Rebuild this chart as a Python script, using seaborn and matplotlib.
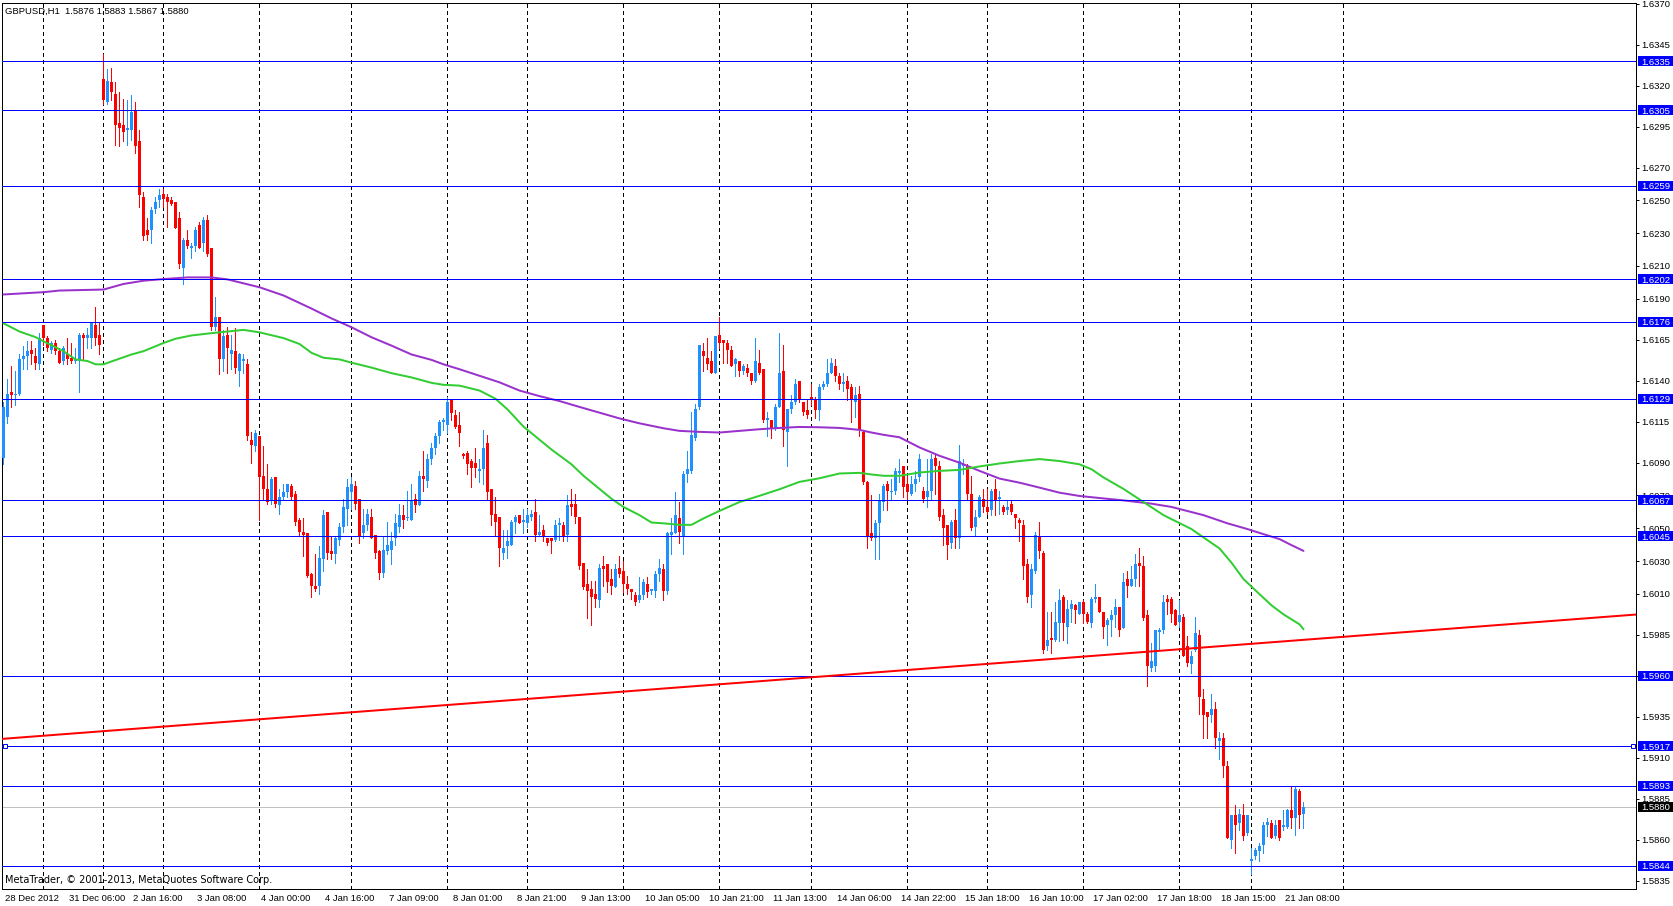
import matplotlib
matplotlib.use("Agg")
import matplotlib.pyplot as plt
import matplotlib.transforms as mtransforms
from matplotlib.patches import Rectangle
import numpy as np
import pandas as pd
import seaborn as sns

# ---------------- data ----------------
symbol_title = "GBPUSD,H1  1.5876 1.5883 1.5867 1.5880"
copyright_text = "MetaTrader, \u00a9 2001-2013, MetaQuotes Software Corp."

opens = [
 1.6093,1.6118,1.6133,1.6131,1.6132,1.6153,1.6155,1.6159,1.6155,1.6150,
 1.6174,1.6166,1.6159,1.6163,1.6158,1.6152,1.6156,1.6154,1.6152,1.6152,
 1.6168,1.6166,1.6166,1.6174,1.6168,1.6324,1.6310,1.6322,1.6315,1.6297,
 1.6296,1.6293,1.6293,1.6305,1.6286,1.6252,1.6232,1.6232,1.6245,1.6250,
 1.6254,1.6252,1.6250,1.6249,1.6239,1.6209,1.6226,1.6221,1.6222,1.6235,
 1.6224,1.6238,1.6221,1.6173,1.6179,1.6153,1.6168,1.6156,1.6158,1.6146,
 1.6152,1.6150,1.6104,1.6100,1.6106,1.6082,1.6074,1.6067,1.6081,1.6064,
 1.6069,1.6072,1.6076,1.6071,1.6055,1.6048,1.6047,1.6022,1.6015,1.6015,
 1.6031,1.6060,1.6036,1.6034,1.6043,1.6051,1.6062,1.6072,1.6076,1.6068,
 1.6047,1.6052,1.6057,1.6046,1.6036,1.6023,1.6036,1.6037,1.6044,1.6051,
 1.6058,1.6056,1.6055,1.6068,1.6064,1.6082,1.6079,1.6092,1.6099,1.6106,
 1.6115,1.6113,1.6128,1.6119,1.6113,1.6095,1.6096,1.6091,1.6090,1.6085,
 1.6086,1.6102,1.6074,1.6059,1.6057,1.6035,1.6039,1.6040,1.6054,1.6058,
 1.6054,1.6053,1.6057,1.6060,1.6046,1.6049,1.6044,1.6044,1.6043,1.6052,
 1.6052,1.6046,1.6065,1.6065,1.6057,1.6029,1.6016,1.6013,1.6010,1.6006,
 1.6027,1.6028,1.6019,1.6014,1.6026,1.6024,1.6016,1.6013,1.6009,1.6006,
 1.6009,1.6016,1.6012,1.6012,1.6022,1.6025,1.6012,1.6046,1.6047,1.6056,
 1.6045,1.6083,1.6085,1.6105,1.6124,1.6158,1.6154,1.6152,1.6145,1.6168,
 1.6165,1.6163,1.6159,1.6150,1.6152,1.6146,1.6148,1.6145,1.6140,1.6151,
 1.6147,1.6116,1.6116,1.6111,1.6124,1.6146,1.6109,1.6123,1.6127,1.6140,
 1.6127,1.6122,1.6130,1.6129,1.6122,1.6136,1.6138,1.6145,1.6149,1.6143,
 1.6138,1.6140,1.6136,1.6127,1.6132,1.6109,1.6078,1.6047,1.6044,1.6053,
 1.6066,1.6077,1.6072,1.6073,1.6084,1.6088,1.6077,1.6071,1.6077,1.6081,
 1.6073,1.6069,1.6073,1.6093,1.6088,1.6058,1.6052,1.6041,1.6055,1.6044,
 1.6088,1.6088,1.6071,1.6051,1.6057,1.6068,1.6063,1.6061,1.6074,1.6068,
 1.6063,1.6061,1.6065,1.6059,1.6055,1.6052,1.6028,1.6009,1.6024,1.6045,
 1.6035,1.5978,1.5983,1.5982,1.5992,1.6008,1.5990,1.6001,1.6003,1.5998,
 1.6005,1.5998,1.5992,1.6007,1.6008,1.5999,1.5991,1.5994,1.5997,1.6002,
 1.5989,1.6019,1.6015,1.6019,1.6029,1.6027,1.5997,1.5965,1.5966,1.5987,
 1.5988,1.6007,1.6007,1.6000,1.5993,1.5996,1.5978,1.5967,1.5976,1.5985,
 1.5946,1.5938,1.5936,1.5940,1.5920,1.5922,1.5905,1.5860,1.5875,1.5870,
 1.5875,1.5864,1.5847,1.5850,1.5853,1.5857,1.5869,1.5870,1.5862,1.5872,
 1.5868,1.5868,1.5878,1.5873,1.5890,1.5876]

highs = [
 1.6127,1.6141,1.6149,1.6146,1.6156,1.6161,1.6164,1.6164,1.6160,1.6169,
 1.6174,1.6167,1.6164,1.6165,1.6160,1.6161,1.6166,1.6163,1.6160,1.6169,
 1.6169,1.6172,1.6176,1.6185,1.6175,1.6339,1.6330,1.6331,1.6322,1.6316,
 1.6312,1.6311,1.6314,1.6310,1.6293,1.6255,1.6239,1.6246,1.6252,1.6257,
 1.6257,1.6254,1.6252,1.6249,1.6243,1.6227,1.6232,1.6224,1.6234,1.6237,
 1.6240,1.6241,1.6221,1.6191,1.6179,1.6171,1.6173,1.6168,1.6172,1.6157,
 1.6156,1.6153,1.6109,1.6110,1.6106,1.6100,1.6089,1.6081,1.6081,1.6074,
 1.6077,1.6077,1.6077,1.6073,1.6056,1.6056,1.6047,1.6023,1.6034,1.6039,
 1.6061,1.6060,1.6045,1.6045,1.6053,1.6068,1.6080,1.6081,1.6079,1.6068,
 1.6062,1.6062,1.6062,1.6046,1.6037,1.6045,1.6054,1.6048,1.6059,1.6065,
 1.6064,1.6073,1.6077,1.6071,1.6085,1.6097,1.6095,1.6102,1.6108,1.6116,
 1.6117,1.6130,1.6128,1.6122,1.6121,1.6096,1.6097,1.6092,1.6099,1.6092,
 1.6110,1.6107,1.6074,1.6069,1.6057,1.6049,1.6049,1.6055,1.6058,1.6058,
 1.6062,1.6062,1.6061,1.6068,1.6058,1.6052,1.6044,1.6044,1.6055,1.6056,
 1.6054,1.6070,1.6074,1.6071,1.6057,1.6029,1.6025,1.6018,1.6018,1.6028,
 1.6033,1.6028,1.6025,1.6028,1.6033,1.6030,1.6021,1.6013,1.6011,1.6020,
 1.6019,1.6020,1.6013,1.6024,1.6031,1.6028,1.6048,1.6056,1.6072,1.6066,
 1.6085,1.6097,1.6121,1.6126,1.6162,1.6163,1.6166,1.6158,1.6167,1.6179,
 1.6165,1.6165,1.6161,1.6154,1.6152,1.6150,1.6150,1.6145,1.6166,1.6159,
 1.6147,1.6121,1.6116,1.6126,1.6169,1.6162,1.6123,1.6131,1.6141,1.6140,
 1.6127,1.6129,1.6138,1.6130,1.6138,1.6140,1.6153,1.6154,1.6153,1.6145,
 1.6145,1.6143,1.6138,1.6136,1.6137,1.6110,1.6079,1.6070,1.6055,1.6071,
 1.6077,1.6079,1.6080,1.6087,1.6092,1.6088,1.6082,1.6082,1.6085,1.6095,
 1.6075,1.6092,1.6095,1.6095,1.6091,1.6062,1.6052,1.6055,1.6062,1.6101,
 1.6092,1.6089,1.6082,1.6061,1.6070,1.6074,1.6074,1.6074,1.6080,1.6073,
 1.6064,1.6067,1.6067,1.6059,1.6056,1.6055,1.6031,1.6028,1.6048,1.6054,
 1.6036,1.5999,1.5999,1.6005,1.6013,1.6009,1.6006,1.6006,1.6004,1.6005,
 1.6006,1.5999,1.6008,1.6016,1.6008,1.5999,1.5995,1.6000,1.6007,1.6002,
 1.6023,1.6024,1.6027,1.6034,1.6038,1.6033,1.6000,1.5980,1.5988,1.5989,
 1.6009,1.6009,1.6008,1.6001,1.6006,1.5998,1.5984,1.5975,1.5996,1.5988,
 1.5952,1.5938,1.5949,1.5944,1.5926,1.5925,1.5908,1.5875,1.5881,1.5879,
 1.5882,1.5875,1.5855,1.5855,1.5858,1.5871,1.5873,1.5872,1.5872,1.5872,
 1.5878,1.5879,1.5893,1.5893,1.5891,1.5883]

lows = [
 1.6089,1.6114,1.6124,1.6125,1.6131,1.6147,1.6147,1.6150,1.6147,1.6147,
 1.6162,1.6158,1.6157,1.6156,1.6151,1.6150,1.6150,1.6151,1.6151,1.6133,
 1.6153,1.6160,1.6160,1.6162,1.6156,1.6309,1.6309,1.6311,1.6284,1.6283,
 1.6286,1.6284,1.6287,1.6279,1.6246,1.6226,1.6226,1.6224,1.6242,1.6246,
 1.6246,1.6234,1.6247,1.6233,1.6209,1.6199,1.6221,1.6215,1.6219,1.6221,
 1.6219,1.6216,1.6171,1.6171,1.6144,1.6146,1.6145,1.6147,1.6145,1.6137,
 1.6145,1.6104,1.6090,1.6097,1.6055,1.6068,1.6065,1.6065,1.6063,1.6059,
 1.6068,1.6069,1.6068,1.6052,1.6045,1.6033,1.6020,1.6008,1.6012,1.6010,
 1.6024,1.6031,1.6031,1.6029,1.6040,1.6048,1.6052,1.6062,1.6062,1.6041,
 1.6044,1.6049,1.6044,1.6032,1.6019,1.6020,1.6034,1.6028,1.6040,1.6048,
 1.6050,1.6055,1.6055,1.6060,1.6064,1.6073,1.6075,1.6089,1.6095,1.6102,
 1.6110,1.6108,1.6116,1.6111,1.6100,1.6093,1.6083,1.6075,1.6081,1.6078,
 1.6077,1.6067,1.6052,1.6046,1.6027,1.6031,1.6032,1.6040,1.6047,1.6053,
 1.6047,1.6051,1.6055,1.6042,1.6045,1.6042,1.6040,1.6035,1.6042,1.6043,
 1.6042,1.6042,1.6058,1.6053,1.6025,1.6013,1.5995,1.5991,1.6002,1.6002,
 1.6015,1.6011,1.6010,1.6014,1.6020,1.6011,1.6010,1.6007,1.6003,1.6005,
 1.6007,1.6008,1.6010,1.6008,1.6018,1.6006,1.6010,1.6034,1.6047,1.6041,
 1.6034,1.6078,1.6084,1.6104,1.6123,1.6146,1.6147,1.6145,1.6145,1.6160,
 1.6151,1.6151,1.6149,1.6143,1.6143,1.6144,1.6143,1.6138,1.6139,1.6144,
 1.6115,1.6106,1.6105,1.6110,1.6124,1.6100,1.6088,1.6120,1.6126,1.6127,
 1.6119,1.6117,1.6125,1.6117,1.6116,1.6135,1.6137,1.6145,1.6140,1.6135,
 1.6134,1.6128,1.6115,1.6118,1.6106,1.6077,1.6038,1.6043,1.6031,1.6031,
 1.6061,1.6061,1.6067,1.6071,1.6078,1.6069,1.6067,1.6070,1.6073,1.6079,
 1.6066,1.6063,1.6068,1.6071,1.6055,1.6040,1.6031,1.6038,1.6038,1.6038,
 1.6083,1.6067,1.6049,1.6045,1.6057,1.6060,1.6059,1.6058,1.6058,1.6059,
 1.6059,1.6059,1.6059,1.6050,1.6042,1.6019,1.6005,1.6002,1.6023,1.6032,
 1.5974,1.5976,1.5974,1.5981,1.5981,1.5982,1.5980,1.5993,1.5992,1.5998,
 1.5992,1.5992,1.5990,1.6005,1.5999,1.5983,1.5979,1.5984,1.5990,1.5984,
 1.5989,1.6008,1.6015,1.6015,1.6015,1.5994,1.5954,1.5963,1.5963,1.5976,
 1.5986,1.5998,1.5993,1.5991,1.5990,1.5972,1.5966,1.5962,1.5975,1.5937,
 1.5922,1.5922,1.5932,1.5916,1.5909,1.5898,1.5861,1.5855,1.5852,1.5866,
 1.5860,1.5863,1.5839,1.5848,1.5847,1.5852,1.5862,1.5861,1.5861,1.5860,
 1.5866,1.5867,1.5867,1.5863,1.5867,1.5867]

closes = [
 1.6124,1.6132,1.6131,1.6132,1.6153,1.6155,1.6158,1.6156,1.6151,1.6166,
 1.6166,1.6160,1.6163,1.6158,1.6151,1.6160,1.6153,1.6152,1.6153,1.6168,
 1.6166,1.6168,1.6176,1.6166,1.6162,1.6311,1.6323,1.6316,1.6296,1.6294,
 1.6292,1.6294,1.6304,1.6283,1.6253,1.6228,1.6229,1.6244,1.6249,1.6253,
 1.6251,1.6249,1.6248,1.6233,1.6211,1.6226,1.6222,1.6222,1.6232,1.6221,
 1.6238,1.6217,1.6173,1.6179,1.6153,1.6167,1.6160,1.6159,1.6148,1.6156,
 1.6153,1.6106,1.6101,1.6108,1.6081,1.6074,1.6066,1.6080,1.6065,1.6069,
 1.6072,1.6077,1.6069,1.6054,1.6048,1.6046,1.6021,1.6015,1.6013,1.6032,
 1.6058,1.6035,1.6034,1.6044,1.6051,1.6063,1.6075,1.6077,1.6065,1.6045,
 1.6052,1.6059,1.6044,1.6035,1.6023,1.6037,1.6040,1.6042,1.6053,1.6058,
 1.6055,1.6057,1.6067,1.6064,1.6082,1.6080,1.6092,1.6099,1.6106,1.6115,
 1.6116,1.6127,1.6120,1.6112,1.6108,1.6094,1.6089,1.6087,1.6087,1.6086,
 1.6099,1.6072,1.6058,1.6054,1.6038,1.6038,1.6042,1.6054,1.6057,1.6053,
 1.6055,1.6058,1.6059,1.6046,1.6048,1.6045,1.6041,1.6042,1.6052,1.6053,
 1.6045,1.6064,1.6063,1.6057,1.6027,1.6014,1.6012,1.6008,1.6007,1.6026,
 1.6025,1.6017,1.6015,1.6025,1.6022,1.6016,1.6013,1.6011,1.6005,1.6009,
 1.6017,1.6011,1.6013,1.6022,1.6026,1.6012,1.6047,1.6048,1.6058,1.6048,
 1.6083,1.6086,1.6107,1.6123,1.6162,1.6155,1.6150,1.6145,1.6167,1.6163,
 1.6163,1.6159,1.6149,1.6153,1.6146,1.6149,1.6145,1.6140,1.6152,1.6145,
 1.6116,1.6117,1.6111,1.6124,1.6145,1.6110,1.6123,1.6127,1.6138,1.6128,
 1.6121,1.6119,1.6129,1.6122,1.6136,1.6138,1.6145,1.6151,1.6143,1.6138,
 1.6139,1.6135,1.6128,1.6131,1.6110,1.6078,1.6045,1.6044,1.6053,1.6067,
 1.6076,1.6073,1.6073,1.6085,1.6085,1.6075,1.6072,1.6077,1.6080,1.6092,
 1.6068,1.6073,1.6092,1.6088,1.6057,1.6050,1.6040,1.6054,1.6044,1.6091,
 1.6089,1.6071,1.6050,1.6057,1.6069,1.6063,1.6060,1.6073,1.6067,1.6069,
 1.6060,1.6063,1.6060,1.6056,1.6053,1.6027,1.6008,1.6025,1.6046,1.6036,
 1.5976,1.5982,1.5982,1.5993,1.6006,1.5992,1.6001,1.6004,1.6000,1.6005,
 1.5998,1.5993,1.6007,1.6008,1.5999,1.5990,1.5994,1.5997,1.6002,1.5988,
 1.6017,1.6015,1.6019,1.6028,1.6027,1.5995,1.5966,1.5969,1.5988,1.5988,
 1.6005,1.6005,1.5998,1.5991,1.5997,1.5972,1.5968,1.5972,1.5986,1.5947,
 1.5936,1.5935,1.5940,1.5922,1.5922,1.5905,1.5861,1.5875,1.5869,1.5876,
 1.5862,1.5875,1.5848,1.5854,1.5856,1.5869,1.5871,1.5861,1.5869,1.5861,
 1.5869,1.5878,1.5873,1.5891,1.5875,1.5880]

# slow moving average (purple), read at selected bars
ma_slow_bars = [0,10,14,25,30,35,40,46,52,56,64,70,77,82,87,92,97,102,107,110,
                114,119,124,129,134,139,144,149,154,159,165,169,174,179,184,189,
                194,199,204,209,214,217,220,224,229,234,239,244,249,254,259,264,
                269,275,280,287,292,300,306,311,315,319,322,325]
ma_slow_vals = [1.61926,1.61940,1.61950,1.61956,1.61990,1.62010,1.62020,1.62030,
                1.62030,1.62018,1.61970,1.61920,1.61840,1.61780,1.61726,1.61665,
                1.61614,1.61560,1.61527,1.61500,1.61470,1.61430,1.61390,1.61340,
                1.61306,1.61276,1.61240,1.61205,1.61170,1.61140,1.61110,1.61094,
                1.61088,1.61084,1.61094,1.61104,1.61112,1.61118,1.61116,1.61112,
                1.61100,1.61084,1.61070,1.61055,1.60993,1.60942,1.60900,1.60850,
                1.60803,1.60778,1.60748,1.60717,1.60697,1.60682,1.60670,1.60650,
                1.60630,1.60580,1.60530,1.60495,1.60464,1.60434,1.60397,1.60362]

# fast moving average (green), read at selected bars
ma_fast_bars = [0,4,8,10,15,18,21,23,25,28,32,35,40,43,47,52,56,60,64,70,74,77,80,
                84,87,92,97,102,107,110,114,119,123,126,130,134,137,142,145,149,
                152,155,159,162,165,169,172,175,179,184,189,194,199,204,209,214,
                217,220,224,229,234,239,244,249,254,259,264,269,272,275,280,285,
                290,297,300,304,307,310,314,317,320,324,325]
ma_fast_vals = [1.61750,1.61700,1.61666,1.61640,1.61580,1.61530,1.61520,1.61500,
                1.61500,1.61526,1.61560,1.61580,1.61630,1.61656,1.61676,1.61690,
                1.61700,1.61710,1.61695,1.61660,1.61624,1.61570,1.61540,1.61530,
                1.61510,1.61480,1.61446,1.61420,1.61387,1.61375,1.61370,1.61340,
                1.61290,1.61225,1.61120,1.61040,1.60980,1.60890,1.60820,1.60740,
                1.60680,1.60630,1.60580,1.60535,1.60530,1.60521,1.60521,1.60560,
                1.60606,1.60660,1.60698,1.60738,1.60783,1.60805,1.60834,1.60838,
                1.60828,1.60820,1.60820,1.60840,1.60850,1.60856,1.60877,1.60895,
                1.60910,1.60922,1.60910,1.60890,1.60860,1.60810,1.60740,1.60660,
                1.60580,1.60495,1.60444,1.60377,1.60290,1.60190,1.60098,1.60030,
                1.59975,1.59914,1.59884]

# trend line anchor points (bar, price)
trend_bars = [0, 300]
trend_prices = [1.59216, 1.59773]

# horizontal levels
levels = [1.6335, 1.6305, 1.6259, 1.6202, 1.6176, 1.6129, 1.6067, 1.6045,
          1.5960, 1.5917, 1.5893, 1.5844]
level_labels = ["1.6335", "1.6305", "1.6259", "1.6202", "1.6176", "1.6129",
                "1.6067", "1.6045", "1.5960", "1.5917", "1.5893", "1.5844"]
selected_level = 1.5917
bid_price = 1.5880
bid_label = "1.5880"

# price axis ticks
price_ticks = [1.6370, 1.6345, 1.6320, 1.6295, 1.6270, 1.6250, 1.6230, 1.6210,
               1.6190, 1.6165, 1.6140, 1.6115, 1.6090, 1.6070, 1.6050, 1.6030,
               1.6010, 1.5985, 1.5960, 1.5935, 1.5910, 1.5885, 1.5860, 1.5835]

# time axis labels (every 16 bars)
time_tick_bars = [0, 16, 32, 48, 64, 80, 96, 112, 128, 144, 160, 176, 192, 208,
                  224, 240, 256, 272, 288, 304, 320]
time_labels = ["28 Dec 2012", "31 Dec 06:00", "2 Jan 16:00", "3 Jan 08:00",
               "4 Jan 00:00", "4 Jan 16:00", "7 Jan 09:00", "8 Jan 01:00",
               "8 Jan 21:00", "9 Jan 13:00", "10 Jan 05:00", "10 Jan 21:00",
               "11 Jan 13:00", "14 Jan 06:00", "14 Jan 22:00", "15 Jan 18:00",
               "16 Jan 10:00", "17 Jan 02:00", "17 Jan 18:00", "18 Jan 15:00",
               "21 Jan 08:00"]

# vertical grid (dashed) positions, bar indices
grid_bars = [10, 25, 40, 64, 87, 111, 131, 155, 179, 202, 226, 246, 270, 294,
             312, 335]

# ---------------- styling ----------------
sns.set_style("white")
plt.rcParams["font.family"] = ["Liberation Sans", "DejaVu Sans"]

BULL = "#1E90FF"
BEAR = "#FF0000"
LEVEL_C = "#0000FF"
PX = 0.72  # one pixel in points at 100 dpi
FS = 6.8   # font size in points (~9.5 px)

W_PX, H_PX = 1674, 906
fig = plt.figure(figsize=(W_PX / 100, H_PX / 100), dpi=100)
fig.patch.set_facecolor("white")

ax_l, ax_r, ax_t, ax_b = 2, 1636, 3, 889
ax = fig.add_axes([ax_l / W_PX, (H_PX - ax_b) / H_PX,
                   (ax_r - ax_l) / W_PX, (ax_b - ax_t) / H_PX])
ax.set_facecolor("white")

px_per_bar = 4.0
x0 = (ax_l - 3.5) / px_per_bar
x1 = x0 + (ax_r - ax_l) / px_per_bar
y_top, y_bot = 1.637038, 1.582997
ax.set_xlim(x0, x1)
ax.set_ylim(y_bot, y_top)
data_per_px = (y_top - y_bot) / (ax_b - ax_t)

# grid lines
for gb in grid_bars:
    ax.axvline(gb, color="black", lw=PX, ls=(0, (3, 3)), zorder=1,
               antialiased=False)

# candles
df = pd.DataFrame({"bar": np.arange(len(opens)), "open": opens, "high": highs,
                   "low": lows, "close": closes})
up = df["close"] > df["open"]
cols = np.where(up, BULL, BEAR)
ax.vlines(df["bar"], df["low"], df["high"], colors=cols, lw=PX, zorder=3,
          antialiased=False)
body_lo = np.minimum(df["open"], df["close"])
body_h = np.maximum((df["close"] - df["open"]).abs(), data_per_px)
ax.bar(df["bar"], body_h, bottom=body_lo, width=0.75, color=cols, linewidth=0,
       zorder=4, antialiased=False)

# moving averages (seaborn)
slow = pd.DataFrame({"bar": ma_slow_bars, "price": ma_slow_vals})
fast = pd.DataFrame({"bar": ma_fast_bars, "price": ma_fast_vals})
sns.lineplot(data=slow, x="bar", y="price", ax=ax, color="#9932CC", lw=2 * PX,
             estimator=None, sort=False, legend=False, zorder=5)
sns.lineplot(data=fast, x="bar", y="price", ax=ax, color="#32CD32", lw=2 * PX,
             estimator=None, sort=False, legend=False, zorder=5)

# horizontal levels
for lv in levels:
    ax.axhline(lv, color=LEVEL_C, lw=PX, zorder=6, antialiased=False)
ax.axhline(bid_price, color="#C0C0C0", lw=PX, zorder=2, antialiased=False)

# trend line
ax.axline((trend_bars[0], trend_prices[0]), (trend_bars[1], trend_prices[1]),
          color="#FF0000", lw=2 * PX, zorder=6)

# selection handles on the selected level
blend = mtransforms.blended_transform_factory(ax.transAxes, ax.transData)
ax.plot([3.5 / (ax_r - ax_l), 1 - 3.0 / (ax_r - ax_l)],
        [selected_level, selected_level], ls="none", marker="s", ms=4 * PX,
        mfc="white", mec=LEVEL_C, mew=PX, transform=blend, zorder=7,
        clip_on=False)

# axes frame
for s in ax.spines.values():
    s.set_color("black")
    s.set_linewidth(PX)

# price axis
ax.yaxis.tick_right()
ax.set_yticks(price_ticks)
ax.set_yticklabels([f"{t:.4f}" for t in price_ticks])
ax.tick_params(axis="y", which="both", direction="out", length=3 * PX,
               width=PX, pad=2.5 * PX, labelsize=FS, colors="black",
               left=False, right=True, labelleft=False, labelright=True)

# time axis
ax.set_xticks(time_tick_bars)
ax.set_xticklabels(time_labels)
ax.tick_params(axis="x", which="both", direction="out", length=4 * PX,
               width=PX, pad=1.0, labelsize=FS, colors="black")
shift = mtransforms.ScaledTranslation(2 / 100, 0, fig.dpi_scale_trans)
for lab in ax.get_xticklabels():
    lab.set_ha("left")
    lab.set_transform(lab.get_transform() + shift)

ax.set_xlabel("")
ax.set_ylabel("")
ax.grid(False)

# level label boxes on the price axis
box_x = (ax_r + 2 - ax_l) / (ax_r - ax_l)
box_w = (W_PX - ax_r - 2) / (ax_r - ax_l)
box_h = 10 * data_per_px
txt_shift = mtransforms.ScaledTranslation(5 / 100, 0, fig.dpi_scale_trans)
for lv, lab in zip(levels + [bid_price], level_labels + [bid_label]):
    fc = "black" if lab == bid_label else LEVEL_C
    ax.add_patch(Rectangle((box_x, lv - box_h / 2), box_w, box_h,
                           transform=blend, facecolor=fc, edgecolor="none",
                           clip_on=False, zorder=8))
    ax.text(1.0, lv, lab, transform=blend + txt_shift, color="white",
            fontsize=FS, ha="left", va="center_baseline", clip_on=False,
            zorder=9)

# texts
fig.text(5 / W_PX, 1 - 11 / H_PX, symbol_title, fontsize=FS, color="black",
         ha="left", va="center")
fig.text(5 / W_PX, 1 - 880 / H_PX, copyright_text, fontsize=FS * 1.03,
         color="black", ha="left", va="center", family=["DejaVu Sans"])

fig.savefig("out.png", dpi=100, facecolor="white")
